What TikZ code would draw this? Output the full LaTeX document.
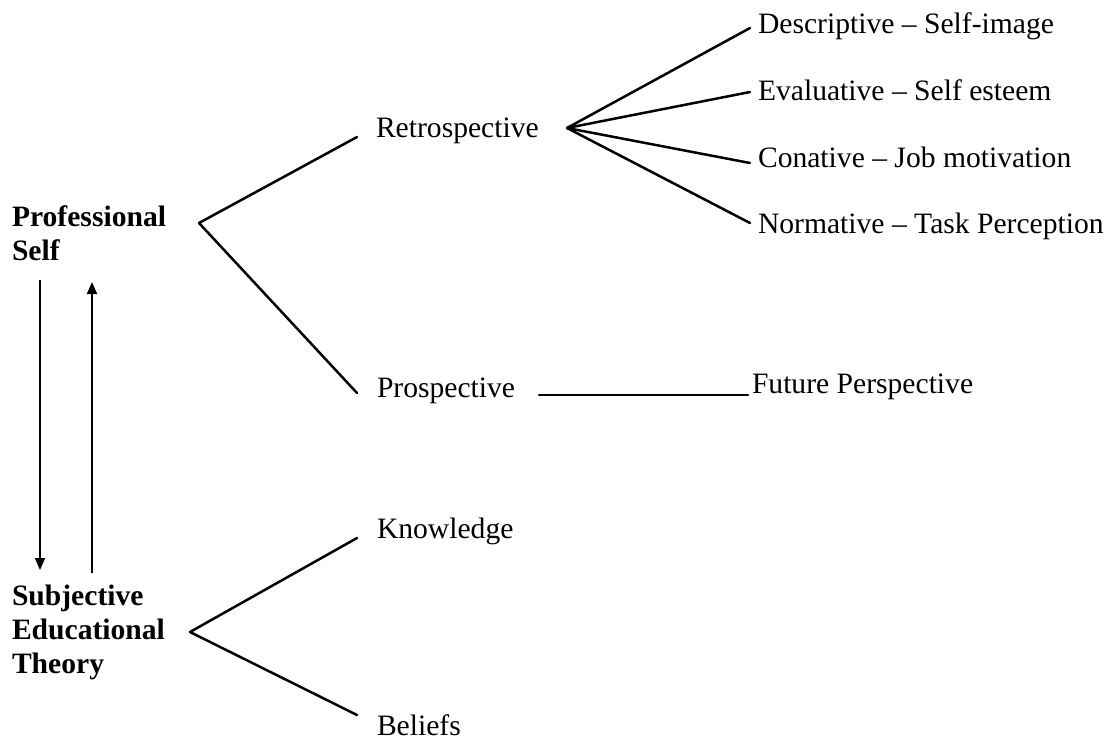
\documentclass[tikz,border=0pt]{standalone}
\usepackage{fontspec}
\setmainfont{Liberation Serif}
\usetikzlibrary{arrows.meta}
\begin{document}
\begin{tikzpicture}[x=0.5pt,y=-0.5pt,
  every node/.style={inner sep=0pt,outer sep=0pt,anchor=base west,font=\fontsize{14.8pt}{17pt}\selectfont},
  head/.style={font=\fontsize{14.8pt}{17pt}\selectfont\bfseries,align=left},
  conn/.style={line width=1.25pt,line cap=round,line join=round},
  arr/.style={line width=0.9pt,-{Triangle[length=6pt,width=5pt]}}]
\useasboundingbox (0,0) rectangle (1112,740);
% nodes (base anchor of multi-line nodes = last line)
\node[head] (ps) at (12,260) {Professional\\Self};
\node[head] (set) at (12,673) {Subjective\\Educational\\Theory};
\node (retro) at (376,137) {Retrospective};
\node (pros) at (377,397) {Prospective};
\node (know) at (377,538) {Knowledge};
\node (bel) at (377,735) {Beliefs};
\node (d1) at (758,33) {Descriptive -- Self-image};
\node (d2) at (758,100) {Evaluative -- Self esteem};
\node (d3) at (758,167) {Conative -- Job motivation};
\node (d4) at (758,233) {Normative -- Task Perception};
\node (fut) at (752,393) {Future Perspective};
% branching points
\coordinate (pv) at (199,223);
\coordinate (sv) at (190,632);
\coordinate (rv) at (567,128);
% connectors
\draw[conn] ([xshift=-9.5pt]retro.base west) -- (pv) -- ([xshift=-10pt,yshift=2pt]pros.base west);
\draw[conn] ([xshift=-10pt]know.base west) -- (sv) -- ([xshift=-10pt,yshift=10pt]bel.base west);
\draw[conn] ([xshift=-4pt,yshift=2.5pt]d1.base west) -- (rv);
\draw[conn] ([xshift=-4pt,yshift=4pt]d2.base west) -- (rv);
\draw[conn] ([xshift=-4pt,yshift=2pt]d3.base west) -- (rv);
\draw[conn] ([xshift=-4pt,yshift=5pt]d4.base west) -- (rv);
\draw[conn] ([xshift=12pt,yshift=1pt]pros.base east) -- ([xshift=-2pt,yshift=-1pt]fut.base west);
% arrows
\draw[arr] ([xshift=14pt,yshift=-10pt]ps.base west) -- ([xshift=14pt,yshift=51.5pt]set.base west);
\draw[arr] ([xshift=40pt,yshift=50pt]set.base west) -- ([xshift=40pt,yshift=-11pt]ps.base west);
\end{tikzpicture}
\end{document}
